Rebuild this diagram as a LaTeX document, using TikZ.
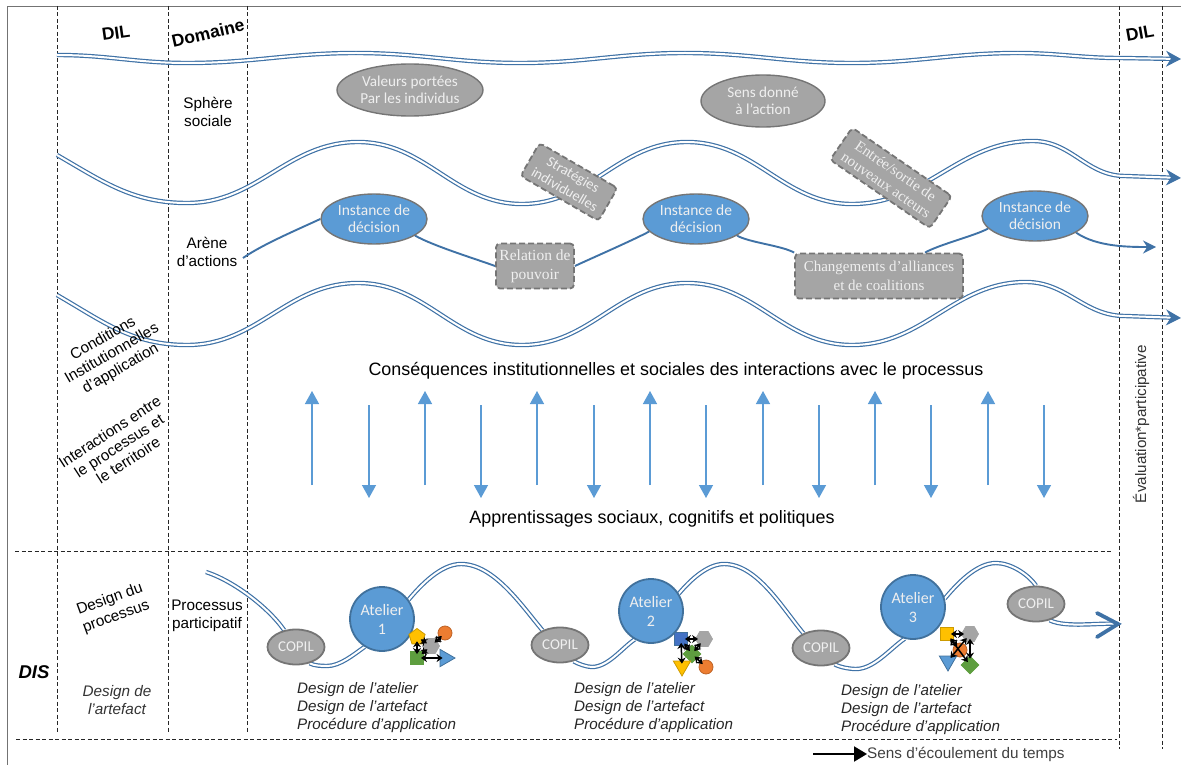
\documentclass[tikz,border=0pt]{standalone}
\usepackage{fontspec}
\setmainfont{Liberation Sans}
\newfontfamily\calfont{Carlito}
\newfontfamily\serfont{Liberation Serif}
\usepackage{tikz}
\usetikzlibrary{shapes, arrows.meta, positioning, backgrounds}
\definecolor{wavecol}{HTML}{3F72A6}
\definecolor{bluefill}{HTML}{5B9BD5}
\definecolor{blueline}{HTML}{41719C}
\definecolor{grayfill}{HTML}{A5A5A5}
\definecolor{grayline}{HTML}{757575}
\definecolor{boxtext}{HTML}{EFEFEF}
\definecolor{symgreen}{HTML}{5E9E3F}
\definecolor{symgold}{HTML}{FFC000}
\definecolor{symorange}{HTML}{ED7D31}
\definecolor{symblue}{HTML}{4472C4}
\tikzset{
    frameline/.style={draw=black!55, line width=0.9pt},
    sepline/.style={draw=black!85, dashed, line width=0.7pt, dash pattern=on 4pt off 2.5pt},
    wave/.style={draw=wavecol, line width=1.2pt, double=white, double distance=2pt},
    wavetip/.style={wave, -{Stealth[length=15pt,width=16pt]}},
    arena/.style={draw=wavecol, line width=1.9pt},
    flow/.style={draw=bluefill, line width=1.4pt, -{Triangle[length=13pt,width=14pt]}},
    grayoval/.style={ellipse, draw=grayline, line width=1.4pt, fill=grayfill, text=boxtext, align=center, inner sep=0pt, font=\calfont\fontsize{15.2}{17}\selectfont},
    blueoval/.style={ellipse, draw=grayline, line width=1.4pt, fill=bluefill, text=boxtext, align=center, inner sep=0pt, font=\calfont\fontsize{15.5}{17}\selectfont},
    dashbox/.style={rectangle, rounded corners=4pt, draw=grayline, line width=1.8pt, dashed, dash pattern=on 6pt off 3pt, fill=grayfill, text=boxtext, align=center, inner sep=0pt},
    atelier/.style={circle, draw=blueline, line width=1.8pt, fill=bluefill, text=boxtext, align=center, inner sep=0pt, minimum size=64pt, font=\calfont\fontsize{16}{19}\selectfont},
    copil/.style={ellipse, draw=grayline, line width=1.8pt, fill=grayfill, text=boxtext, inner sep=0pt, minimum width=57pt, minimum height=35pt, font=\calfont\fontsize{15}{16}\selectfont},
    label/.style={align=center, inner sep=0pt, font=\fontsize{15.3}{18.5}\selectfont},
    head/.style={inner sep=0pt, font=\bfseries\fontsize{17.5}{18}\selectfont},
    bigtext/.style={inner sep=0pt, font=\fontsize{17.9}{20}\selectfont},
    designlist/.style={align=left, inner sep=0pt, anchor=north west, text=black!85, font=\itshape\fontsize{15.2}{18}\selectfont},
    symbol/.style={draw, line width=0.8pt, inner sep=0pt},
    symsquare/.style={symbol, rectangle, minimum size=13pt},
    symcircle/.style={symbol, circle, minimum size=14pt},
    sympent/.style={symbol, regular polygon, regular polygon sides=5, minimum size=17pt},
    symhex/.style={symbol, regular polygon, regular polygon sides=6, minimum size=17pt},
    symdiam/.style={symbol, diamond, minimum size=18pt},
    symtri/.style={symbol, regular polygon, regular polygon sides=3, minimum size=20pt},
    link/.style={draw=black, line width=1.5pt, shorten <=-3pt, shorten >=-3pt, {Stealth[length=6pt,width=8pt]}-{Stealth[length=6pt,width=8pt]}},
    timearrow/.style={draw=black, line width=2pt, -{Triangle[length=13pt,width=15pt]}}
}
\begin{document}
\begin{tikzpicture}[x=1pt, y=-1pt]
    \useasboundingbox (0,0) rectangle (1181,765);

    \coordinate (frame_bl) at (7,765);
    \coordinate (frame_tl) at (7,6);
    \coordinate (frame_tr) at (1181,6);
    \coordinate (col_1a) at (57,6);
    \coordinate (col_1b) at (57,733);
    \coordinate (col_2a) at (168,6);
    \coordinate (col_2b) at (168,733);
    \coordinate (col_3a) at (247,6);
    \coordinate (col_3b) at (247,733);
    \coordinate (col_4a) at (1119,6);
    \coordinate (col_4b) at (1119,749);
    \coordinate (col_5a) at (1162,6);
    \coordinate (col_5b) at (1162,749);
    \coordinate (row_1a) at (15,551);
    \coordinate (row_1b) at (1112,551);
    \coordinate (row_2a) at (16,739);
    \coordinate (row_2b) at (1117,739);

    \node[head, rotate=8] (dil_left) at (116,33) {DIL};
    \node[head, rotate=13] (domaine) at (208,33) {Domaine};
    \node[head, rotate=10] (dil_right) at (1140,33) {DIL};
    \node[label] (sphere) at (208,112) {Sphère\\sociale};
    \node[label] (arene) at (207,252) {Arène\\d’actions};
    \node[label, rotate=30, font=\fontsize{15.3}{17.5}\selectfont] (conditions) at (112,354) {Conditions\\Institutionnelles\\d’application};
    \node[label, rotate=33, font=\fontsize{15.3}{17}\selectfont] (interactions) at (119,446) {Interactions entre\\le processus et\\le territoire};
    \node[label, rotate=20] (design_proc) at (113,608) {Design du\\processus};
    \node[label, font=\itshape\fontsize{15.3}{18.5}\selectfont, text=black!80] (design_art) at (117,700) {Design de\\l’artefact};
    \node[label] (processus) at (207,616) {Processus\\participatif};
    \node[head, font=\bfseries\itshape\fontsize{18.5}{18}\selectfont] (dis) at (34,672) {DIS};
    \node[inner sep=0pt, rotate=90, text=black!80, font=\fontsize{15.2}{15}\selectfont] (evaluation) at (1141,424) {Évaluation*participative};

    \node[grayoval, minimum width=146pt, minimum height=52pt] (valeurs) at (410,90) {Valeurs portées\\Par les individus};
    \node[grayoval, minimum width=124pt, minimum height=52pt] (sens) at (763,101) {Sens donné\\à l’action};
    \node[blueoval, minimum width=106pt, minimum height=50pt] (inst_1) at (374,219) {Instance de\\décision};
    \node[blueoval, minimum width=106pt, minimum height=50pt] (inst_2) at (696,219) {Instance de\\décision};
    \node[blueoval, minimum width=106pt, minimum height=50pt] (inst_3) at (1035,216) {Instance de\\décision};
    \node[dashbox, rotate=-30, minimum width=90pt, minimum height=38pt, font=\calfont\fontsize{14.5}{17}\selectfont] (strategies) at (569,182) {Stratégies\\individuelles};
    \node[dashbox, rotate=-34.5, minimum width=121pt, minimum height=39pt, font=\serfont\fontsize{15}{17}\selectfont] (entree) at (891,178) {Entrée/sortie de\\nouveaux acteurs};
    \node[dashbox, minimum width=78pt, minimum height=45pt, font=\serfont\fontsize{15.5}{19}\selectfont] (relation) at (535,266) {Relation de\\pouvoir};
    \node[dashbox, minimum width=168pt, minimum height=45pt, font=\serfont\fontsize{15}{19}\selectfont] (changements) at (879,276) {Changements d’alliances\\et de coalitions};

    \node[bigtext] (consequences) at (676,371) {Conséquences institutionnelles et sociales des interactions avec le processus};
    \node[bigtext] (apprentissages) at (652,519) {Apprentissages sociaux, cognitifs et politiques};

    \node[atelier] (atelier_1) at (382,619) {Atelier\\1};
    \node[atelier] (atelier_2) at (651,611) {Atelier\\2};
    \node[atelier] (atelier_3) at (913,607) {Atelier\\3};
    \node[copil] (copil_1) at (296,647) {COPIL};
    \node[copil] (copil_2) at (560,645) {COPIL};
    \node[copil] (copil_3) at (821,648) {COPIL};
    \node[copil] (copil_4) at (1036,604) {COPIL};

    \node[designlist] (list_1) at (297,682) {Design de l’atelier\\Design de l’artefact\\Procédure d’application};
    \node[designlist] (list_2) at (574,682) {Design de l’atelier\\Design de l’artefact\\Procédure d’application};
    \node[designlist] (list_3) at (841,684) {Design de l’atelier\\Design de l’artefact\\Procédure d’application};

    \node[inner sep=0pt, anchor=west, text=black!75, font=\fontsize{15.3}{15}\selectfont] (sens_temps) at (867,754) {Sens d’écoulement du temps};
    \coordinate (time_start) at (813,754);

    \node[sympent, fill=symgold, draw=symgold!80!black] (pent_a) at (417,637) {};
    \node[symcircle, fill=symorange, draw=symorange!80!black] (circ_a) at (445,633) {};
    \node[symhex, fill=grayfill, draw=grayfill] (hex_a) at (431,646) {};
    \node[symsquare, fill=symgreen, draw=symgreen] (squ_a) at (417,658) {};
    \node[symtri, shape border rotate=-90, fill=bluefill, draw=blueline] (tri_a) at (445,658) {};
    \node[symsquare, fill=symblue, draw=blueline] (squ_b) at (681,639) {};
    \node[symhex, fill=grayfill, draw=grayfill] (hex_b) at (704,639) {};
    \node[symdiam, fill=symgreen, draw=symgreen] (diam_b) at (692,654) {};
    \node[symtri, shape border rotate=180, fill=symgold, draw=symgold!80!black] (tri_b) at (682,666) {};
    \node[symcircle, fill=symorange, draw=symorange!80!black] (circ_b) at (706,667) {};
    \node[symsquare, fill=symgold, draw=symgold!80!black] (squ_c) at (947,634) {};
    \node[symhex, fill=grayfill, draw=grayfill] (hex_c) at (970,634) {};
    \node[symcircle, fill=symorange, draw=symorange!80!black] (circ_c) at (960,650) {};
    \node[symtri, shape border rotate=180, fill=bluefill, draw=blueline] (tri_c) at (948,661) {};
    \node[symdiam, fill=symgreen, draw=symgreen] (diam_c) at (970,665) {};

    \draw[link] (pent_a) -- (squ_a);
    \draw[link] (pent_a) -- (hex_a);
    \draw[link] (hex_a) -- (squ_a);
    \draw[link] (hex_a) -- (circ_a);
    \draw[link] (squ_a) -- (tri_a);
    \draw[link] (squ_b) -- (hex_b);
    \draw[link] (squ_b) -- (tri_b);
    \draw[link] (squ_b) -- (diam_b);
    \draw[link] (hex_b) -- (diam_b);
    \draw[link] (diam_b) -- (circ_b);
    \draw[link] (squ_c) -- (hex_c);
    \draw[link] (squ_c) -- (diam_c);
    \draw[link] (hex_c) -- (tri_c);
    \draw[link] (hex_c) -- (diam_c);
    \draw[link] (squ_c) -- (circ_c);

    \coordinate (up_1a) at (312,485);
    \coordinate (up_1b) at (312,391);
    \coordinate (up_2a) at (425,485);
    \coordinate (up_2b) at (425,391);
    \coordinate (up_3a) at (537,485);
    \coordinate (up_3b) at (537,391);
    \coordinate (up_4a) at (650,485);
    \coordinate (up_4b) at (650,391);
    \coordinate (up_5a) at (763,485);
    \coordinate (up_5b) at (763,391);
    \coordinate (up_6a) at (875,485);
    \coordinate (up_6b) at (875,391);
    \coordinate (up_7a) at (988,485);
    \coordinate (up_7b) at (988,391);
    \coordinate (down_1a) at (369,405);
    \coordinate (down_1b) at (369,498);
    \coordinate (down_2a) at (481,405);
    \coordinate (down_2b) at (481,498);
    \coordinate (down_3a) at (594,405);
    \coordinate (down_3b) at (594,498);
    \coordinate (down_4a) at (706,405);
    \coordinate (down_4b) at (706,498);
    \coordinate (down_5a) at (819,405);
    \coordinate (down_5b) at (819,498);
    \coordinate (down_6a) at (931,405);
    \coordinate (down_6b) at (931,498);
    \coordinate (down_7a) at (1044,405);
    \coordinate (down_7b) at (1044,498);

    \path[flow] (up_1a) -- (up_1b);
    \path[flow] (up_2a) -- (up_2b);
    \path[flow] (up_3a) -- (up_3b);
    \path[flow] (up_4a) -- (up_4b);
    \path[flow] (up_5a) -- (up_5b);
    \path[flow] (up_6a) -- (up_6b);
    \path[flow] (up_7a) -- (up_7b);
    \path[flow] (down_1a) -- (down_1b);
    \path[flow] (down_2a) -- (down_2b);
    \path[flow] (down_3a) -- (down_3b);
    \path[flow] (down_4a) -- (down_4b);
    \path[flow] (down_5a) -- (down_5b);
    \path[flow] (down_6a) -- (down_6b);
    \path[flow] (down_7a) -- (down_7b);

    \draw[timearrow] (time_start) -- (sens_temps);

    \coordinate (wa_0) at (57,55);
    \coordinate (wa_1) at (187,63);
    \coordinate (wa_2) at (356,53);
    \coordinate (wa_3) at (520,63);
    \coordinate (wa_4) at (685,53);
    \coordinate (wa_5) at (852,63);
    \coordinate (wa_6) at (1018,53);
    \coordinate (wa_7) at (1120,58);
    \coordinate (wa_8) at (1181,59);
    \coordinate (wb_0) at (57,155);
    \coordinate (wb_1) at (187,203);
    \coordinate (wb_2) at (358,142);
    \coordinate (wb_3) at (522,204);
    \coordinate (wb_4) at (687,142);
    \coordinate (wb_5) at (852,204);
    \coordinate (wb_6) at (1033,141);
    \coordinate (wb_7) at (1125,176);
    \coordinate (wb_8) at (1181,178);
    \coordinate (wc_0) at (57,295);
    \coordinate (wc_1) at (187,345);
    \coordinate (wc_2) at (358,283);
    \coordinate (wc_3) at (522,345);
    \coordinate (wc_4) at (687,283);
    \coordinate (wc_5) at (852,345);
    \coordinate (wc_6) at (1026,282);
    \coordinate (wc_7) at (1125,316);
    \coordinate (wc_8) at (1181,318);
    \coordinate (arena_start) at (243,258);
    \coordinate (arena_end) at (1156,247);
    \coordinate (proc_0) at (206,572);
    \coordinate (proc_1) at (327,666);
    \coordinate (proc_2) at (461,564);
    \coordinate (proc_3) at (592,667);
    \coordinate (proc_4) at (724,564);
    \coordinate (proc_5) at (856,669);
    \coordinate (proc_6) at (996,563);
    \coordinate (proc_7) at (1118,624);
    \coordinate (barb_a) at (1097,613);
    \coordinate (barb_b) at (1097,637);

    \begin{scope}[on background layer]
        \draw[frameline] (frame_bl) -- (frame_tl) -- (frame_tr);
        \draw[sepline] (col_1a) -- (col_1b);
        \draw[sepline] (col_2a) -- (col_2b);
        \draw[sepline] (col_3a) -- (col_3b);
        \draw[sepline] (col_4a) -- (col_4b);
        \draw[sepline] (col_5a) -- (col_5b);
        \draw[sepline] (row_1a) -- (row_1b);
        \draw[sepline] (row_2a) -- (row_2b);

        \draw[wavetip] (wa_0) to[out=0,in=180] (wa_1) to[out=0,in=180] (wa_2) to[out=0,in=180] (wa_3) to[out=0,in=180] (wa_4) to[out=0,in=180] (wa_5) to[out=0,in=180] (wa_6) to[out=0,in=180] (wa_7) -- (wa_8);
        \draw[wavetip] (wb_0) to[out=-30,in=180] (wb_1) to[out=0,in=180] (wb_2) to[out=0,in=180] (wb_3) to[out=0,in=180] (wb_4) to[out=0,in=180] (wb_5) to[out=0,in=180] (wb_6) to[out=0,in=180] (wb_7) -- (wb_8);
        \draw[wavetip] (wc_0) to[out=-30,in=180] (wc_1) to[out=0,in=180] (wc_2) to[out=0,in=180] (wc_3) to[out=0,in=180] (wc_4) to[out=0,in=180] (wc_5) to[out=0,in=180] (wc_6) to[out=0,in=180] (wc_7) -- (wc_8);

        \draw[arena] (arena_start) to[out=35,in=205,looseness=.7] (inst_1.west);
        \draw[arena] (inst_1.-22) to[out=-30,in=160,looseness=.6] (relation.west);
        \draw[arena] (relation.east) to[out=25,in=208,looseness=.6] (inst_2.195);
        \draw[arena] (inst_2.-22) to[out=-30,in=150,looseness=.6] (changements.north west);
        \draw[arena] ([xshift=46pt]changements.north) to[out=30,in=208,looseness=.6] (inst_3.195);
        \draw[arena, -{Stealth[length=13pt,width=13pt]}] (inst_3.-22) to[out=-35,in=180,looseness=.8] (arena_end);

        \draw[wave] (proc_0) to[out=-18,in=125,looseness=.75] (copil_1.125);
        \draw[wave] (copil_1.-50) to[out=-30,in=180,looseness=.7] (proc_1) to[out=0,in=215,looseness=.8] (atelier_1.238);
        \draw[wave] (atelier_1.36) to[out=50,in=180,looseness=.8] (proc_2) to[out=0,in=130,looseness=.8] (copil_2.140);
        \draw[wave] (copil_2.-50) to[out=-30,in=180,looseness=.7] (proc_3) to[out=0,in=215,looseness=.8] (atelier_2.240);
        \draw[wave] (atelier_2.32) to[out=50,in=180,looseness=.8] (proc_4) to[out=0,in=130,looseness=.8] (copil_3.140);
        \draw[wave] (copil_3.-50) to[out=-30,in=180,looseness=.7] (proc_5) to[out=0,in=215,looseness=.8] (atelier_3.255);
        \draw[wave] (atelier_3.15) to[out=50,in=180,looseness=.8] (proc_6) to[out=0,in=125,looseness=.8] (copil_4.90);
        \draw[wave] (copil_4.-50) to[out=-25,in=175,looseness=.7] (proc_7);
        \draw[arena, line width=3.8pt, line cap=round, line join=miter] (barb_a) -- (proc_7) -- (barb_b);
    \end{scope}
\end{tikzpicture}
\end{document}
